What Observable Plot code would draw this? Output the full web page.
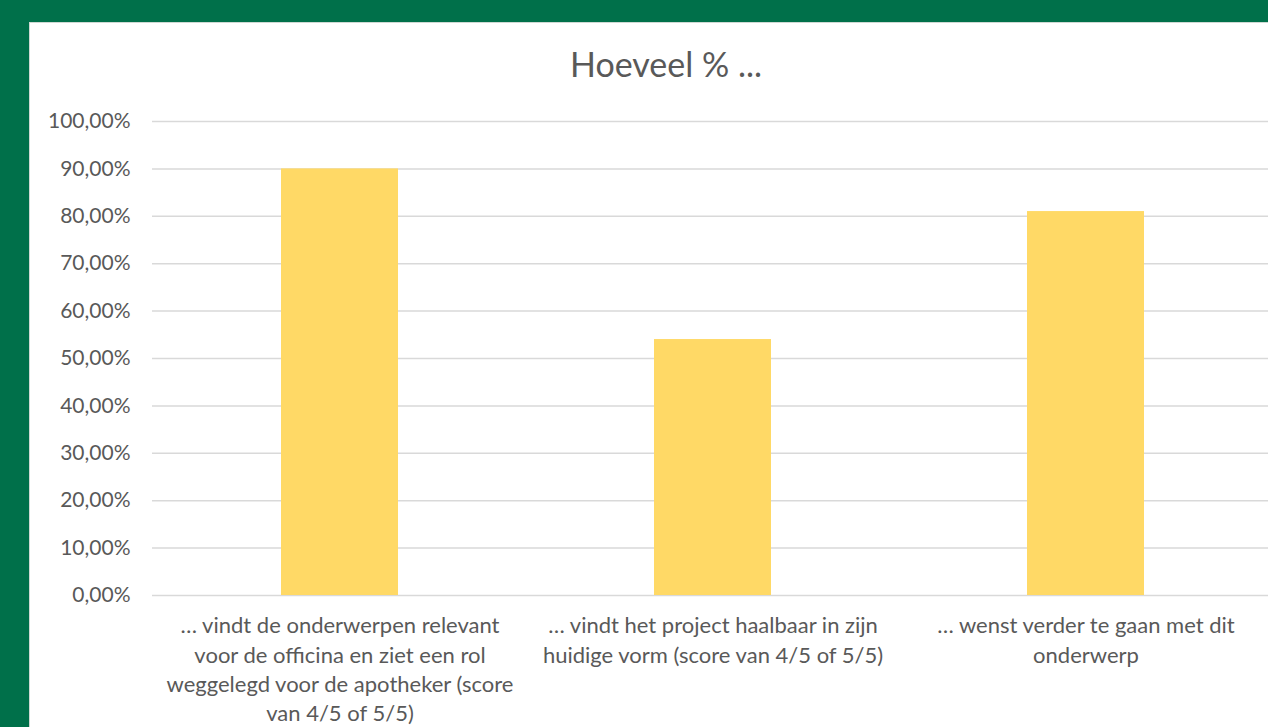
<!DOCTYPE html>
<html>
<head>
<meta charset="utf-8">
<script src="https://cdn.jsdelivr.net/npm/d3@7"></script>
<script src="https://cdn.jsdelivr.net/npm/@observablehq/plot@0.6"></script>
<style>
  html, body { margin: 0; padding: 0; width: 1268px; height: 727px; overflow: hidden; background: #00704A; }
  #panel { position: absolute; left: 29px; top: 22px; width: 1239px; height: 705px; background: #fff; border-left: 1px solid #cfd8d3; border-top: 1px solid #cfd8d3; box-sizing: border-box; }
  #title { position: absolute; left: 0; top: 21px; width: 1272px; text-align: center; font-family: Lato, "Liberation Sans", sans-serif; font-size: 34px; line-height: 1.2; color: #595959; }
  #chart { position: absolute; left: -1px; top: -1px; }
</style>
</head>
<body>
<div id="panel">
  <div id="title">Hoeveel % ...</div>
  <div id="chart"></div>
</div>
<script>
const categories = [
  "... vindt de onderwerpen relevant voor de officina en ziet een rol weggelegd voor de apotheker (score van 4/5 of 5/5)",
  "... vindt het project haalbaar in zijn huidige vorm (score van 4/5 of 5/5)",
  "... wenst verder te gaan met dit onderwerp"
];
const tickLabels = [
  "… vindt de onderwerpen relevant\nvoor de officina en ziet een rol\nweggelegd voor de apotheker (score\nvan 4/5 of 5/5)",
  "… vindt het project haalbaar in zijn\nhuidige vorm (score van 4/5 of 5/5)",
  "… wenst verder te gaan met dit\nonderwerp"
];
const values = [0.90, 0.54, 0.81];
const yTicks = [0, 0.1, 0.2, 0.3, 0.4, 0.5, 0.6, 0.7, 0.8, 0.9, 1.0];

const data = categories.map((c, i) => ({category: c, value: values[i]}));
const labelOf = new Map(categories.map((c, i) => [c, tickLabels[i]]));
const fmt = v => d3.format(".2f")(v * 100).replace(".", ",") + "%";

const chart = Plot.plot({
  width: 1239,
  height: 705,
  marginLeft: 123,
  marginRight: 0,
  marginTop: 99,
  marginBottom: 132,
  style: {fontFamily: "Lato, 'Liberation Sans', sans-serif", color: "#595959", background: "transparent"},
  x: {domain: categories, range: [123, 1244], paddingInner: 0.687, paddingOuter: 0.3435, label: null},
  y: {domain: [0, 1], label: null},
  marks: [
    Plot.ruleY(yTicks, {stroke: "#d9d9d9", strokeWidth: 1.5}),
    Plot.barY(data, {x: "category", y: "value", fill: "#FFD966"}),
    Plot.axisY({ticks: yTicks, tickFormat: fmt, tickSize: 0, tickPadding: 22, fontSize: 21, fill: "#595959", label: null}),
    Plot.axisX({tickFormat: d => labelOf.get(d), tickSize: 0, tickPadding: 17, fontSize: 22, lineHeight: 1.33, fill: "#595959", label: null})
  ]
});
document.getElementById("chart").appendChild(chart);
</script>
</body>
</html>
